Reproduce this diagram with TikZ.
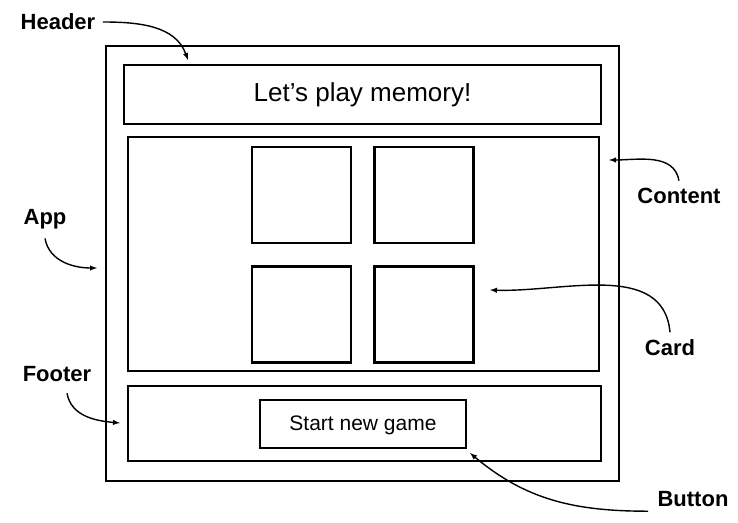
\documentclass[tikz,border=0pt]{standalone}
\usepackage{fontspec}
\setmainfont{Liberation Sans}
\begin{document}
\begin{tikzpicture}[x=1pt, y=1pt]
    \tikzstyle{box}=[draw, line width=2.2pt, inner sep=0pt]
    \tikzstyle{lbl}=[font=\fontsize{22}{24}\selectfont\bfseries]
    \tikzstyle{marrs}=[line width=1.4pt,-latex]

    \useasboundingbox (0, 0) rectangle (738, 522);

    % the wireframe
    \begin{scope}
        \node[box, minimum width=513, minimum height=435] (app) at (362.5, 258.5) {};
        \node[box, minimum width=477, minimum height=59, font=\fontsize{26}{30}\selectfont] (header) at (362.5, 427.5) {Let’s play memory!};
        \node[box, minimum width=471, minimum height=234] (content) at (363.5, 268) {};
        \node[box, minimum width=473, minimum height=75] (footer) at (364.5, 98.5) {};
        \node[box, minimum width=206, minimum height=48, font=\fontsize{21}{24}\selectfont, text depth=2pt] (button) at (363, 98) {Start new game};

        \foreach \n/\x/\y in {1/301.5/327, 2/424/327, 3/301.5/207.5, 4/424/207.5} {
            \node[box, minimum width=99, minimum height=96] (card\n) at (\x, \y) {};
        }
    \end{scope}

    % the labels
    \begin{scope}
        \node[lbl] (headerlbl) at (58, 500) {Header};
        \node[lbl] (applbl) at (45, 303) {App};
        \node[lbl] (contentlbl) at (679, 326) {Content};
        \node[lbl] (cardlbl) at (670, 174) {Card};
        \node[lbl] (footerlbl) at (57, 148) {Footer};
        \node[lbl] (buttonlbl) at (693, 23) {Button};

        \coordinate (headertip) at (188, 462);
        \coordinate (apptip) at (97, 254);
        \coordinate (contenttip) at (609, 362);
        \coordinate (cardtip) at (490, 232);
        \coordinate (footertip) at (120, 99);
        \coordinate (buttontip) at (470, 69);

        \draw[marrs] ([xshift=4pt]headerlbl.east) to[out=0, in=110] (headertip);
        \draw[marrs] ([yshift=-6pt]applbl.south) to[out=-80, in=180] (apptip);
        \draw[marrs] ([yshift=4pt]contentlbl.north) to[out=100, in=0] (contenttip);
        \draw[marrs] ([yshift=4pt]cardlbl.north) to[out=95, in=-2] (cardtip);
        \draw[marrs] ([xshift=10pt, yshift=-8pt]footerlbl.south) to[out=-80, in=175] (footertip);
        \draw[marrs] ([xshift=-6pt, yshift=-1pt]buttonlbl.south west) to[out=180, in=-40] (buttontip);
    \end{scope}

\end{tikzpicture}
\end{document}
